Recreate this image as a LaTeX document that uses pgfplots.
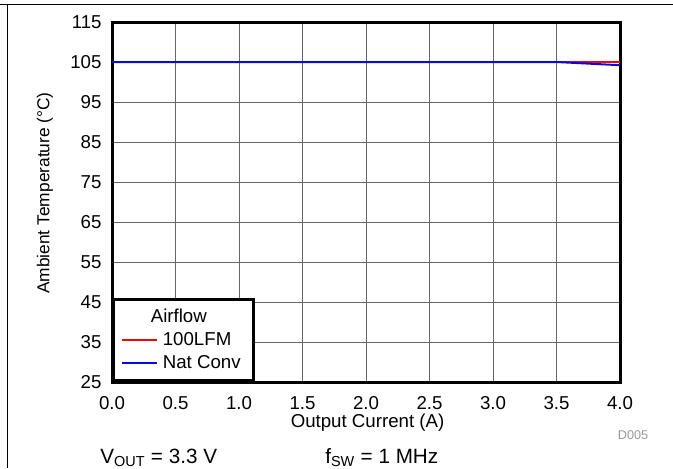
\documentclass[border=0pt]{standalone}
\usepackage{fontspec}
\setmainfont{Liberation Sans}
\usepackage{pgfplots}
\pgfplotsset{compat=1.18}
\definecolor{lfmred}{RGB}{255,0,0}
\definecolor{natblue}{RGB}{10,10,220}
\begin{document}
\fontsize{14}{16.8}\selectfont
\begin{tikzpicture}
\useasboundingbox (-84pt,-64.5pt) rectangle (420.75pt,286.5pt);
% outer frame (top and left only)
\draw[line width=0.75pt] (-84pt,282.75pt) -- (420.75pt,282.75pt);
\draw[line width=0.75pt] (-78pt,282.75pt) -- (-78pt,-64.5pt);
\begin{axis}[
    at={(0,0)}, anchor=south west,
    scale only axis,
    width=381pt, height=270pt,
    xmin=0, xmax=4, ymin=25, ymax=115,
    xtick={0,0.5,...,4}, ytick={25,35,...,115},
    xticklabel style={/pgf/number format/.cd, fixed, fixed zerofill, precision=1, /tikz/.cd, yshift=-6pt},
    yticklabel style={xshift=-3pt},
    /pgf/number format/assume math mode=true,
    major tick length=0pt,
    grid=major,
    major grid style={black!60, line width=0.6pt},
    axis line style={line width=2.25pt},
    xlabel={Output Current (A)},
    ylabel={Ambient Temperature (°C)},
    xlabel style={at={(axis description cs:0.503,-0.113)}, anchor=center},
    ylabel style={at={(axis description cs:-0.132,0.525)}, anchor=center,
        font=\fontsize{13}{15.6}\selectfont},
    legend style={at={(axis cs:0,25)}, anchor=south west, draw=black, line width=2.25pt,
        fill=white, inner xsep=5.5pt, inner ysep=5pt, row sep=1.5pt,
        cells={anchor=west},
        nodes={inner xsep=4pt}},
    legend image code/.code={\draw[#1] (0pt,0pt) -- (26pt,0pt);},
]
\addlegendimage{empty legend}
\addlegendentry{\hspace*{-9pt}Airflow}
\addplot[lfmred, line width=1.5pt] coordinates {
  (0,105) (0.5,105) (1.0,105) (1.5,105) (2.0,105) (2.5,105) (3.0,105) (3.5,105) (4.0,105)
};
\addlegendentry{100LFM}
\addplot[natblue, line width=1.5pt] coordinates {
  (0,105) (0.5,105) (1.0,105) (1.5,105) (2.0,105) (2.5,105) (3.0,105) (3.5,105) (4.0,104.2)
};
\addlegendentry{Nat Conv}
\end{axis}
\node[anchor=center, text=black!40, font=\fontsize{9.5}{11}\selectfont] at (390.75pt,-39.75pt) {D005};
\node[anchor=base west, inner sep=0pt, font=\fontsize{15.5}{18}\selectfont] at (-9pt,-60.75pt) {V\textsubscript{OUT} = 3.3 V};
\node[anchor=base west, inner sep=0pt, font=\fontsize{15.5}{18}\selectfont] at (159.75pt,-60.75pt) {f\textsubscript{SW} = 1 MHz};
\end{tikzpicture}
\end{document}
